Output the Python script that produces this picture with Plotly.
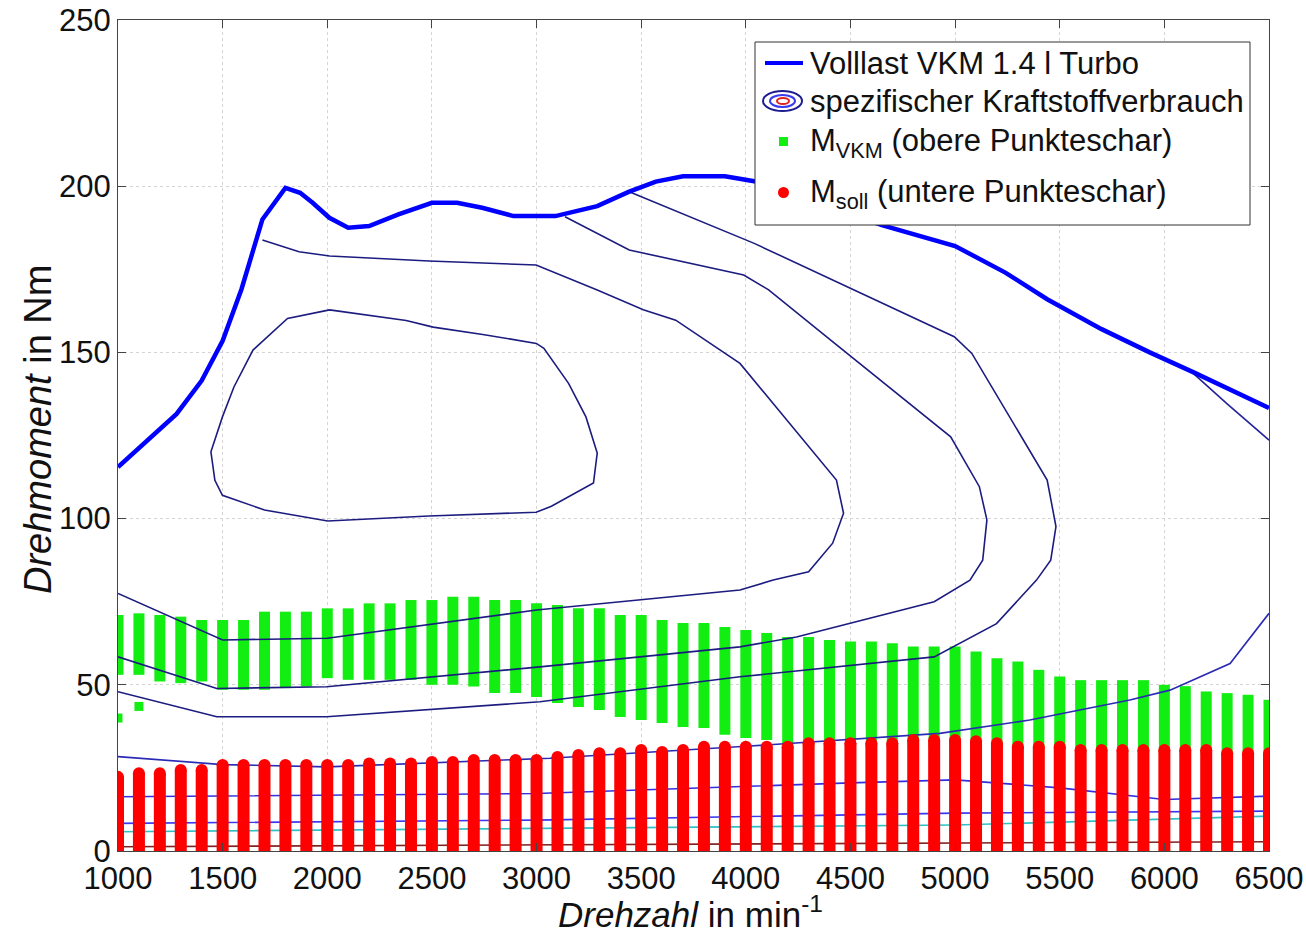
import plotly.graph_objects as go

# ---------------- data ----------------
rpm = list(range(1000, 6501, 100))

green_high = [71, 71.5, 71, 70.5, 69.5, 69.5, 69.5, 72, 72, 72, 73, 73, 74.5, 74.5, 75.5, 75.5, 76.5, 76.5,
              75.5, 75.5, 74.5, 74, 73, 73, 71, 71, 69.5, 68.6, 68.6, 67.4, 66.5, 65.6, 64.4, 64.4, 63.5,
              63, 63, 62.5, 61.5, 61.5, 61.5, 60, 58, 57, 54.5, 52.5, 51.4, 51.4, 51.4, 51.4, 50, 49.6, 48,
              47.5, 47, 45.5]
green_low = [53, 53, 51, 50.5, 51, 48.5, 48.5, 48.5, 49, 49.5, 52, 51.5, 51.5, 51.5, 51.5, 50, 50, 49.5,
             47.5, 47.5, 46.3, 44.5, 43.3, 42.4, 40.3, 39.4, 38.5, 37.3, 37, 35, 34, 33.4, 31, 31, 31,
             31, 31, 31, 31, 31, 31, 31, 31, 30, 30, 30, 29, 29, 29, 29, 29, 29, 29, 28, 28, 28]
green_extra_x = [1000, 1100]
green_extra_y = [40, 43.5]

red_high = [22.3, 23.4, 23.4, 24.4, 24.4, 25.9, 25.9, 25.9, 25.9, 25.9, 25.9, 25.9, 26.3, 26.3, 26.3, 26.8,
            26.8, 27.4, 27.4, 27.4, 27.4, 28.3, 28.9, 29.4, 29.4, 30.4, 29.8, 30.4, 31.4, 31.4, 31.4, 31.4,
            31.4, 32.4, 32.4, 32.4, 32.4, 32.4, 33.4, 33.4, 33.4, 33.0, 32.4, 31.4, 31.4, 31.4, 30.4, 30.4,
            30.4, 30.4, 30.4, 30.4, 30.4, 29.4, 29.4, 29.4]

vl_x = [1000, 1280, 1400, 1500, 1590, 1690, 1800, 1870, 1930, 2010, 2100, 2200, 2340, 2500, 2620, 2740,
        2890, 3090, 3290, 3440, 3570, 3700, 3900, 4040, 4350, 4650, 5000, 5240, 5440, 5700, 5930, 6140, 6500]
vl_y = [115.5, 131.5, 141.5, 153.5, 169, 190, 199.5, 198, 195, 190.5, 187.5, 188, 191.5, 195, 195, 193.5,
        191, 191, 194, 198.3, 201.4, 203, 203, 201.5, 195, 188.3, 182, 174, 166, 157, 150, 144, 133.3]

# contour lines of the specific fuel consumption map (x in rpm, y in Nm)
c1_x = [2011, 2377, 2506, 2743, 2999, 3035, 3153, 3236, 3290, 3272, 3071, 2998, 2486, 2002, 1700, 1499,
        1463, 1444, 1499, 1554, 1645, 1810, 2011]
c1_y = [162.8, 159.6, 157.6, 155.4, 152.7, 151.2, 140.7, 130.6, 119.7, 110.7, 103.7, 101.9, 100.8, 99.3,
        102.6, 107, 111.5, 120.1, 130.6, 139.6, 150.7, 160.2, 162.8]
c2_x = [1690, 1865, 2011, 2486, 2998, 3290, 3510, 3665, 3972, 4211, 4433, 4467, 4415, 4300, 4131, 3972,
        3000, 2000, 1500, 1000]
c2_y = [183.8, 180.3, 179, 177.5, 176.3, 168.8, 162.8, 159.7, 146.7, 128.6, 111.6, 101.6, 92.6, 84,
        81.5, 78.5, 72.5, 64, 63.5, 77.5]
c3_x = [3136, 3443, 3990, 4109, 4416, 4979, 5116, 5152, 5132, 5071, 4900, 4242, 3972, 3016, 1997, 1472, 1000]
c3_y = [190.8, 180.8, 173.3, 168.8, 153.2, 124.6, 109.6, 99.6, 87.5, 81.5, 75, 64.4, 61.4, 55.4, 49.4,
        48.9, 58.4]
c4_x = [3443, 4040, 4996, 5080, 5440, 5482, 5457, 5389, 5198, 4900, 3972, 3016, 1997, 1472, 1000]
c4_y = [198.3, 182.8, 154.7, 149.7, 111.6, 97.6, 87.5, 81.5, 68.4, 58.4, 52.4, 44.9, 40.4, 40.4, 47.9]
c5a_x = [6138, 6300, 6500]
c5a_y = [143.7, 134.5, 123.6]
c5b_x = [1000, 1500, 2000, 3064, 4000, 4927, 5357, 5835, 6027, 6314, 6500]
c5b_y = [28.4, 26, 25.3, 27.9, 31.5, 35.4, 39.4, 45.4, 48.4, 56.4, 71.5]
c6_x = [1000, 3000, 4500, 5000, 5500, 6000, 6500]
c6_y = [16.3, 17.3, 20.5, 21.4, 19, 15.5, 16.5]
c7_x = [1000, 3000, 5000, 6500]
c7_y = [8.3, 9.3, 11.4, 12]
c8_x = [1000, 3000, 5000, 6500]
c8_y = [5.8, 6.9, 7.8, 10.5]
c9_x = [1000, 3000, 6500]
c9_y = [1.3, 1.8, 2.8]

x_ticks = list(range(1000, 6501, 500))
y_ticks = [0, 50, 100, 150, 200, 250]

legend_labels = ["Volllast VKM 1.4 l Turbo", "spezifischer Kraftstoffverbrauch",
                 "M<sub>VKM</sub> (obere Punkteschar)", "M<sub>soll</sub> (untere Punkteschar)"]

# ---------------- figure ----------------
FONT = "Liberation Sans, Arial, sans-serif"
NAVY = "#1c1c80"
GREEN = "#12ee12"
RED = "#ff0000"
BLUE = "#0000ff"

# page body margin is removed (post_script), so figure pixels == page pixels
W, H = 1306, 935
L, T = 118, 20
R = W - 1269
B = H - 851
pw, ph = W - L - R, H - T - B


def px_x(p):
    return (p - L) / pw


def px_y(p):
    return (H - B - p) / ph


def columns(xs, lows, highs):
    px, py = [], []
    for x, lo, hi in zip(xs, lows, highs):
        px += [x, x, None]
        py += [lo, hi, None]
    return px, py


fig = go.Figure()

# green point clouds (M_VKM)
gx, gy = columns(rpm, green_low, green_high)
fig.add_trace(go.Scatter(x=gx, y=gy, mode="lines", line=dict(color=GREEN, width=11),
                         showlegend=False, hoverinfo="skip"))
fig.add_trace(go.Scatter(x=green_extra_x, y=green_extra_y, mode="markers",
                         marker=dict(symbol="square", color=GREEN, size=9),
                         showlegend=False, hoverinfo="skip"))

# contour lines
contours = [
    (c1_x, c1_y, NAVY), (c2_x, c2_y, NAVY), (c3_x, c3_y, NAVY), (c4_x, c4_y, NAVY),
    (c5a_x, c5a_y, "#23239a"), (c5b_x, c5b_y, "#2a2ab4"), (c6_x, c6_y, "#3030e0"),
    (c7_x, c7_y, "#3838f0"), (c8_x, c8_y, "#30c0c8"), (c9_x, c9_y, "#802020"),
]
for cx, cy, col in contours:
    fig.add_trace(go.Scatter(x=cx, y=cy, mode="lines", line=dict(color=col, width=1.6),
                             showlegend=False, hoverinfo="skip"))

# red point clouds (M_soll)
rx, ry = columns(rpm, [0] * len(rpm), red_high)
fig.add_trace(go.Scatter(x=rx, y=ry, mode="lines", line=dict(color=RED, width=12),
                         showlegend=False, hoverinfo="skip"))
fig.add_trace(go.Scatter(x=rpm, y=red_high, mode="markers",
                         marker=dict(symbol="circle", color=RED, size=12),
                         showlegend=False, hoverinfo="skip"))

# full load curve
fig.add_trace(go.Scatter(x=vl_x, y=vl_y, mode="lines", line=dict(color=BLUE, width=4.5),
                         showlegend=False, hoverinfo="skip"))

# ---------------- legend box (drawn manually) ----------------
shapes = [
    dict(type="rect", xref="paper", yref="paper", x0=px_x(755), x1=px_x(1250), y0=px_y(225), y1=px_y(42),
         fillcolor="white", line=dict(color="#333333", width=1), layer="above"),
    dict(type="line", xref="paper", yref="paper", x0=px_x(765), x1=px_x(803), y0=px_y(63),
         y1=px_y(63), line=dict(color=BLUE, width=4), layer="above"),
    dict(type="circle", xref="paper", yref="paper", x0=px_x(763), x1=px_x(802), y0=px_y(111), y1=px_y(91),
         line=dict(color="#1c1c90", width=2), layer="above"),
    dict(type="circle", xref="paper", yref="paper", x0=px_x(770), x1=px_x(795), y0=px_y(107), y1=px_y(95),
         line=dict(color="#3a3af0", width=2), layer="above"),
    dict(type="circle", xref="paper", yref="paper", x0=px_x(777), x1=px_x(789), y0=px_y(104), y1=px_y(98),
         line=dict(color="#e02020", width=2), layer="above"),
    dict(type="rect", xref="paper", yref="paper", x0=px_x(779), x1=px_x(788), y0=px_y(146), y1=px_y(137),
         fillcolor=GREEN, line=dict(width=0), layer="above"),
    dict(type="circle", xref="paper", yref="paper", x0=px_x(778), x1=px_x(789), y0=px_y(198), y1=px_y(187),
         fillcolor=RED, line=dict(width=0), layer="above"),
]

annotations = []
label_y = [63, 101, 143, 194]
for txt, yy in zip(legend_labels, label_y):
    annotations.append(dict(text=txt, xref="paper", yref="paper", x=px_x(808), y=px_y(yy),
                            xanchor="left", yanchor="middle", showarrow=False,
                            font=dict(family=FONT, size=31, color="#111111")))

# axis titles
annotations.append(dict(text="<i>Drehzahl</i> in min<sup>-1</sup>", xref="paper", yref="paper",
                        x=px_x(690), y=px_y(912), xanchor="center", yanchor="middle", showarrow=False,
                        font=dict(family=FONT, size=35, color="#111111")))
annotations.append(dict(text="<i>Drehmoment</i> in Nm", xref="paper", yref="paper",
                        x=px_x(38), y=px_y(430), xanchor="center", yanchor="middle", showarrow=False,
                        textangle=-90, font=dict(family=FONT, size=38, color="#111111")))

fig.update_layout(
    width=W, height=H,
    margin=dict(l=L, r=R, t=T, b=B, autoexpand=False),
    paper_bgcolor="white", plot_bgcolor="white",
    font=dict(family=FONT, color="#111111", size=31),
    shapes=shapes, annotations=annotations,
    showlegend=False,
)

common = dict(showline=True, linecolor="#444444", linewidth=1, mirror="ticks",
              ticks="inside", ticklen=8, tickcolor="#444444",
              showgrid=True, gridcolor="#d4d4d4", griddash="dot", gridwidth=1, zeroline=False,
              tickfont=dict(family=FONT, size=31, color="#111111"), automargin=False,
              ticklabeloverflow="allow")
fig.update_xaxes(range=[1000, 6500], tickvals=x_ticks, ticktext=[str(v) for v in x_ticks], **common)
fig.update_yaxes(range=[0, 250], tickvals=y_ticks, ticktext=[str(v) for v in y_ticks], **common)

fig.write_html("out.html", config={"displayModeBar": False},
               post_script="document.body.style.margin='0px';document.body.style.overflow='hidden';")
